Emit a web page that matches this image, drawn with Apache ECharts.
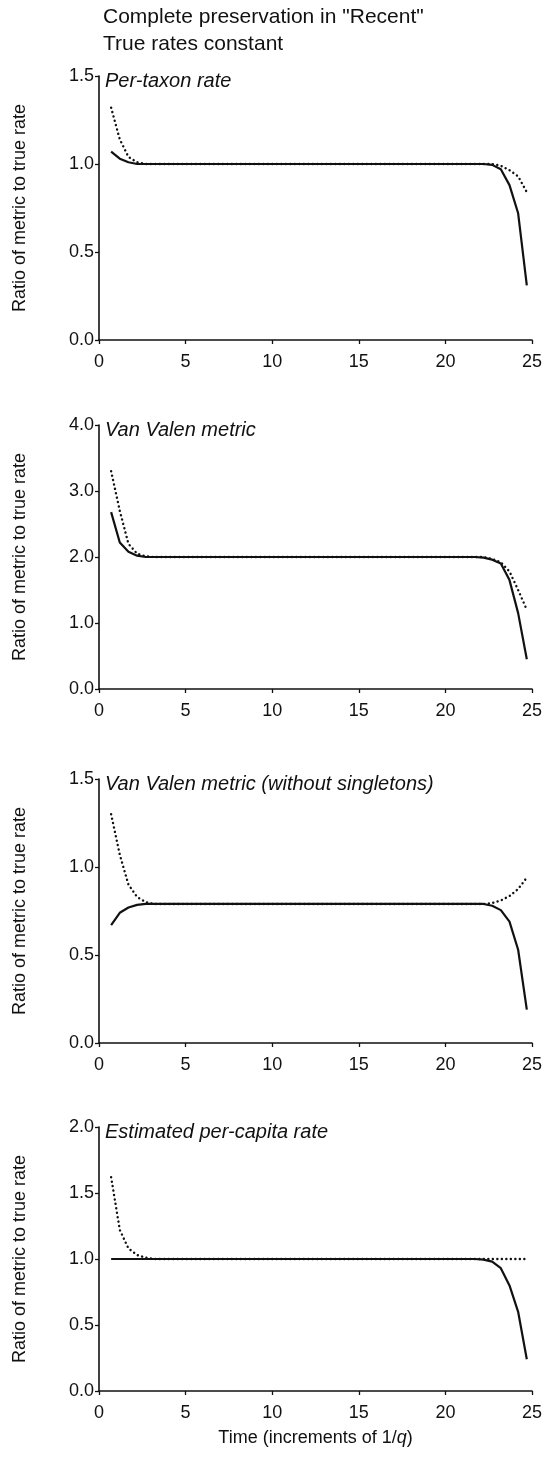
<!DOCTYPE html>
<html>
<head>
<meta charset="utf-8">
<script src="https://cdn.jsdelivr.net/npm/echarts@6/dist/echarts.min.js"></script>
<style>html,body{margin:0;padding:0;background:#fff;}#c{width:549px;height:1457px;}</style>
</head>
<body>
<div id="c"></div>
<script>
// Time points (increments of 1/q)
var xs = [0.7,1.2,1.7,2.2,2.7,3.2,3.7,4.2,4.7,5.2,
          5.7,6.2,6.7,7.2,7.7,8.2,8.7,9.2,9.7,10.2,
          10.7,11.2,11.7,12.2,12.7,13.2,13.7,14.2,14.7,15.2,
          15.7,16.2,16.7,17.2,17.7,18.2,18.7,19.2,19.7,20.2,
          20.7,21.2,21.7,22.2,22.7,23.2,23.7,24.2,24.7];

var panelTitles = ["Per-taxon rate", "Van Valen metric", "Van Valen metric (without singletons)", "Estimated per-capita rate"];
var yMax = [1.5, 4.0, 1.5, 2.0];
var yInterval = [0.5, 1.0, 0.5, 0.5];
var xTicks = [0, 5, 10, 15, 20, 25];

var perTaxonSolid = [1.07,1.03,1.01,1.00,1.00,1.00,1.00,1.00,1.00,1.00,
  1.00,1.00,1.00,1.00,1.00,1.00,1.00,1.00,1.00,1.00,
  1.00,1.00,1.00,1.00,1.00,1.00,1.00,1.00,1.00,1.00,
  1.00,1.00,1.00,1.00,1.00,1.00,1.00,1.00,1.00,1.00,
  1.00,1.00,1.00,1.00,0.995,0.97,0.88,0.72,0.31];
var perTaxonDotted = [1.32,1.14,1.04,1.01,1.00,1.00,1.00,1.00,1.00,1.00,
  1.00,1.00,1.00,1.00,1.00,1.00,1.00,1.00,1.00,1.00,
  1.00,1.00,1.00,1.00,1.00,1.00,1.00,1.00,1.00,1.00,
  1.00,1.00,1.00,1.00,1.00,1.00,1.00,1.00,1.00,1.00,
  1.00,1.00,1.00,1.00,1.00,0.99,0.965,0.93,0.84];

var vanValenSolid = [2.68,2.22,2.08,2.02,2.00,2.00,2.00,2.00,2.00,2.00,
  2.00,2.00,2.00,2.00,2.00,2.00,2.00,2.00,2.00,2.00,
  2.00,2.00,2.00,2.00,2.00,2.00,2.00,2.00,2.00,2.00,
  2.00,2.00,2.00,2.00,2.00,2.00,2.00,2.00,2.00,2.00,
  2.00,2.00,2.00,1.99,1.96,1.90,1.65,1.15,0.45];
var vanValenDotted = [3.30,2.70,2.20,2.05,2.01,2.00,2.00,2.00,2.00,2.00,
  2.00,2.00,2.00,2.00,2.00,2.00,2.00,2.00,2.00,2.00,
  2.00,2.00,2.00,2.00,2.00,2.00,2.00,2.00,2.00,2.00,
  2.00,2.00,2.00,2.00,2.00,2.00,2.00,2.00,2.00,2.00,
  2.00,2.00,2.00,2.00,1.97,1.92,1.78,1.50,1.20];

var noSingleSolid = [0.67,0.74,0.77,0.785,0.79,0.79,0.79,0.79,0.79,0.79,
  0.79,0.79,0.79,0.79,0.79,0.79,0.79,0.79,0.79,0.79,
  0.79,0.79,0.79,0.79,0.79,0.79,0.79,0.79,0.79,0.79,
  0.79,0.79,0.79,0.79,0.79,0.79,0.79,0.79,0.79,0.79,
  0.79,0.79,0.79,0.79,0.78,0.755,0.69,0.53,0.19];
var noSingleDotted = [1.30,1.07,0.90,0.83,0.80,0.79,0.79,0.79,0.79,0.79,
  0.79,0.79,0.79,0.79,0.79,0.79,0.79,0.79,0.79,0.79,
  0.79,0.79,0.79,0.79,0.79,0.79,0.79,0.79,0.79,0.79,
  0.79,0.79,0.79,0.79,0.79,0.79,0.79,0.79,0.79,0.79,
  0.79,0.79,0.79,0.79,0.795,0.81,0.835,0.875,0.94];

var perCapitaSolid = [1.00,1.00,1.00,1.00,1.00,1.00,1.00,1.00,1.00,1.00,
  1.00,1.00,1.00,1.00,1.00,1.00,1.00,1.00,1.00,1.00,
  1.00,1.00,1.00,1.00,1.00,1.00,1.00,1.00,1.00,1.00,
  1.00,1.00,1.00,1.00,1.00,1.00,1.00,1.00,1.00,1.00,
  1.00,1.00,1.00,0.995,0.98,0.93,0.80,0.60,0.24];
var perCapitaDotted = [1.62,1.22,1.08,1.03,1.01,1.00,1.00,1.00,1.00,1.00,
  1.00,1.00,1.00,1.00,1.00,1.00,1.00,1.00,1.00,1.00,
  1.00,1.00,1.00,1.00,1.00,1.00,1.00,1.00,1.00,1.00,
  1.00,1.00,1.00,1.00,1.00,1.00,1.00,1.00,1.00,1.00,
  1.00,1.00,1.00,1.00,1.00,1.00,1.00,1.00,1.00];

var solids = [perTaxonSolid, vanValenSolid, noSingleSolid, perCapitaSolid];
var dotteds = [perTaxonDotted, vanValenDotted, noSingleDotted, perCapitaDotted];

var FONT = '"Liberation Sans", Arial, Helvetica, sans-serif';
var INK = '#111';
var gridTops = [76, 425, 779, 1127];
var gridH = 264;

function pairs(arr) { return xs.map(function (x, i) { return [x, arr[i]]; }); }

var grids = [], xAxes = [], yAxes = [], series = [], titles = [];
for (var p = 0; p < 4; p++) {
  grids.push({ left: 99, right: 17, top: gridTops[p], height: gridH });
  xAxes.push({
    type: 'value', gridIndex: p, min: xTicks[0], max: xTicks[xTicks.length - 1], interval: 5,
    axisLine: { show: true, onZero: false, lineStyle: { color: INK, width: 1.6 } },
    axisTick: { show: true, inside: false, length: 4, lineStyle: { color: INK, width: 1.3 } },
    axisLabel: { color: INK, fontSize: 18, fontFamily: FONT, margin: 13 },
    splitLine: { show: false },
    name: p === 3 ? 'Time (increments of 1/{i|q})' : '',
    nameLocation: 'middle', nameGap: 38,
    nameTextStyle: { color: INK, fontSize: 18, fontFamily: FONT,
      rich: { i: { fontStyle: 'italic', fontSize: 18, fontFamily: FONT, color: INK } } }
  });
  yAxes.push({
    type: 'value', gridIndex: p, min: 0, max: yMax[p], interval: yInterval[p],
    axisLine: { show: true, lineStyle: { color: INK, width: 1.6 } },
    axisTick: { show: true, inside: false, length: 4, lineStyle: { color: INK, width: 1.3 } },
    axisLabel: { color: INK, fontSize: 18, fontFamily: FONT, margin: 5,
      formatter: function (v) { return v.toFixed(1); } },
    splitLine: { show: false },
    name: 'Ratio of metric to true rate', nameLocation: 'middle', nameRotate: 90, nameGap: 70,
    nameTextStyle: { color: INK, fontSize: 18, fontFamily: FONT }
  });
  series.push({
    type: 'line', xAxisIndex: p, yAxisIndex: p, data: pairs(dotteds[p]),
    showSymbol: false, smooth: false,
    lineStyle: { color: INK, width: 2.4, type: [0.1, 4.4], cap: 'round' }, z: 2
  });
  series.push({
    type: 'line', xAxisIndex: p, yAxisIndex: p, data: pairs(solids[p]),
    showSymbol: false, smooth: false,
    lineStyle: { color: INK, width: 2.2, type: 'solid' }, z: 3
  });
  titles.push({
    text: panelTitles[p], left: 105, top: gridTops[p] - 5, padding: 0,
    textStyle: { fontStyle: 'italic', fontWeight: 'normal', fontSize: 20, color: INK, fontFamily: FONT }
  });
}

var chart = echarts.init(document.getElementById('c'), null, { renderer: 'canvas' });
chart.setOption({
  animation: false,
  backgroundColor: '#fff',
  title: titles,
  grid: grids,
  xAxis: xAxes,
  yAxis: yAxes,
  series: series,
  graphic: [
    { type: 'text', left: 103, top: 7, style: { text: 'Complete preservation in "Recent"', fontSize: 21, fontFamily: FONT, fill: INK } },
    { type: 'text', left: 103, top: 34, style: { text: 'True rates constant', fontSize: 21, fontFamily: FONT, fill: INK } }
  ]
});
</script>
</body>
</html>
